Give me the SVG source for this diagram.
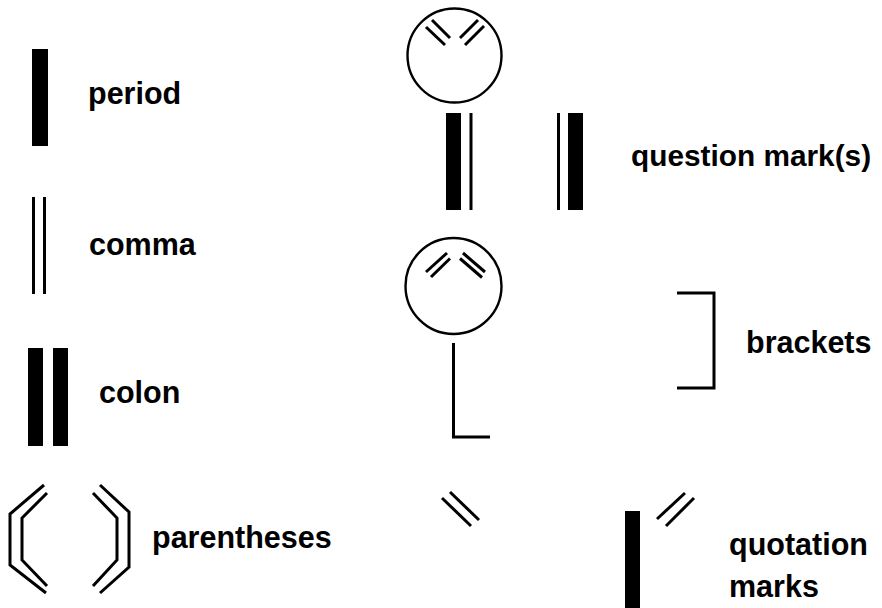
<svg xmlns="http://www.w3.org/2000/svg" width="882" height="608" viewBox="0 0 882 608">
<style>
.t{font-family:"Liberation Sans",Arial,sans-serif;font-weight:bold;font-size:30.5px;fill:#000}
.l{fill:none;stroke:#000;stroke-width:3}
.c{fill:none;stroke:#000;stroke-width:2.4}
.b{fill:#000}
</style>
<rect width="882" height="608" fill="#fff"/>
<g id="period">
<rect class="b" x="32" y="49" width="16" height="97"/>
<text class="t" x="88" y="104">period</text>
</g>
<g id="comma">
<line class="l" x1="33.5" y1="197" x2="33.5" y2="294"/>
<line class="l" x1="44.5" y1="197" x2="44.5" y2="294"/>
<text class="t" x="89" y="255">comma</text>
</g>
<g id="colon">
<rect class="b" x="28" y="348" width="15" height="98"/>
<rect class="b" x="53" y="348" width="15" height="98"/>
<text class="t" x="99" y="403">colon</text>
</g>
<g id="parentheses">
<polyline class="l" points="44,485 10,514 10,565 46,593"/>
<polyline class="l" points="47,493 22,518 22,560 47,586"/>
<polyline class="l" points="100,485 129,512 129,567 100,593"/>
<polyline class="l" points="93,493 117,518 117,560 93,586"/>
<text class="t" x="152" y="548">parentheses</text>
</g>
<g id="question-marks">
<circle class="c" cx="454.5" cy="55.5" r="47"/>
<line class="l" x1="432" y1="20" x2="450" y2="38"/>
<line class="l" x1="426" y1="27" x2="445" y2="45"/>
<line class="l" x1="478" y1="20" x2="460" y2="38"/>
<line class="l" x1="484" y1="26" x2="465" y2="45"/>
<rect class="b" x="446" y="113" width="15" height="97"/>
<line class="l" x1="471" y1="113" x2="471" y2="210"/>
<line class="l" x1="558.5" y1="113" x2="558.5" y2="210"/>
<rect class="b" x="568" y="113" width="15" height="97"/>
<text class="t" x="631" y="166" style="font-size:29.8px">question mark(s)</text>
</g>
<g id="brackets">
<circle class="c" cx="453.5" cy="286" r="48"/>
<line class="l" x1="447" y1="253" x2="426" y2="272"/>
<line class="l" x1="450" y1="258.5" x2="431" y2="277"/>
<line class="l" x1="463" y1="253" x2="485" y2="272"/>
<line class="l" x1="460" y1="258.5" x2="482" y2="277.5"/>
<polyline class="l" points="453.5,343 453.5,437 490,437"/>
<polyline class="l" points="677,293 714,293 714,388 677,388"/>
<text class="t" x="746" y="353">brackets</text>
</g>
<g id="quotation-marks">
<line class="l" x1="450" y1="492" x2="479" y2="520"/>
<line class="l" x1="442" y1="498" x2="471" y2="526"/>
<rect class="b" x="625" y="511" width="15" height="97"/>
<line class="l" x1="685" y1="493" x2="657" y2="519"/>
<line class="l" x1="694" y1="498" x2="666" y2="526"/>
<text class="t" x="729" y="555">quotation</text>
<text class="t" x="729" y="597">marks</text>
</g>
</svg>
